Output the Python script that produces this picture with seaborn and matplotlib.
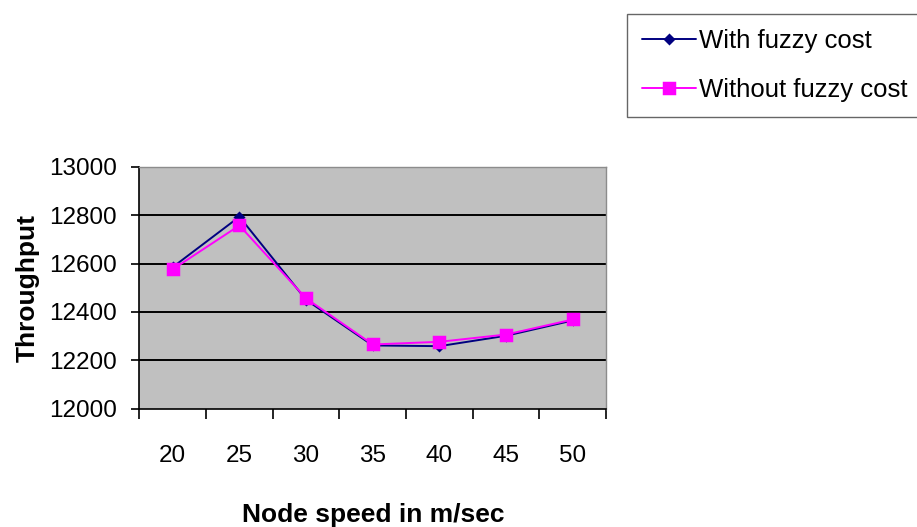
import matplotlib
matplotlib.use("Agg")
import matplotlib.pyplot as plt
import numpy as np
import pandas as pd
import seaborn as sns

speeds = ["20", "25", "30", "35", "40", "45", "50"]
with_fuzzy = [12585, 12793, 12450, 12262, 12259, 12302, 12365]
without_fuzzy = [12576, 12757, 12456, 12266, 12277, 12307, 12369]
series_names = ["With fuzzy cost", "Without fuzzy cost"]
y_ticks = [12000, 12200, 12400, 12600, 12800, 13000]

df = pd.DataFrame({
    "speed": speeds * 2,
    "throughput": with_fuzzy + without_fuzzy,
    "series": [series_names[0]] * len(speeds) + [series_names[1]] * len(speeds),
})

sns.set_style("white")
plt.rcParams["font.family"] = ["Liberation Sans", "DejaVu Sans"]
plt.rcParams["text.color"] = "black"
plt.rcParams["axes.labelcolor"] = "black"
plt.rcParams["xtick.color"] = "black"
plt.rcParams["ytick.color"] = "black"

fig = plt.figure(figsize=(9.17, 5.27), dpi=100)
ax = fig.add_axes([0.152, 0.224, 0.509, 0.460])
ax.set_facecolor("#C0C0C0")

sns.pointplot(
    data=df, x="speed", y="throughput", hue="series", order=speeds,
    palette={series_names[0]: "#000080", series_names[1]: "#FF00FF"},
    markers=["D", "s"], linestyles=["-", "-"], errorbar=None,
    markersize=7, linewidth=1.4, ax=ax,
)
# magenta squares a bit bigger than the diamonds
for line in ax.lines:
    if line.get_marker() == "s":
        line.set_markersize(8.5)
    elif line.get_marker() == "D":
        line.set_markersize(5.5)

ax.set_xlim(-0.5, len(speeds) - 0.5)
ax.set_ylim(12000, 13000)
ax.set_yticks(y_ticks)
ax.set_yticklabels([str(v) for v in y_ticks])
for v in y_ticks[1:-1]:
    ax.axhline(v, color="black", lw=1.4, zorder=0.5)

ax.set_xticks(np.arange(-0.5, len(speeds)), minor=True)
ax.tick_params(which="both", bottom=True, left=True)
ax.tick_params(axis="x", which="major", length=0, pad=26, labelsize=17.5)
ax.tick_params(axis="x", which="minor", length=7, width=1.2, direction="out")
ax.tick_params(axis="y", which="major", length=6, width=1.2, direction="out", pad=10, labelsize=17.5)

for side in ["left", "bottom"]:
    ax.spines[side].set_color("black")
    ax.spines[side].set_linewidth(1.2)
for side in ["top", "right"]:
    ax.spines[side].set_color("#8C8C8C")
    ax.spines[side].set_linewidth(1.0)

ax.set_xlabel("Node speed in m/sec", fontsize=19, fontweight="bold", labelpad=26)
ax.set_ylabel("Throughput", fontsize=19, fontweight="bold", labelpad=7)

handles, labels = ax.get_legend_handles_labels()
ax.get_legend().remove()
leg = fig.legend(
    handles, labels, loc="upper left", bbox_to_anchor=(627 / 917, 1 - 14 / 527),
    frameon=True, fancybox=False, fontsize=18.5,
    handlelength=2.1, handletextpad=0.12, borderpad=0.6, labelspacing=0.95,
    borderaxespad=0,
)
leg.get_frame().set_edgecolor("#404040")
leg.get_frame().set_linewidth(1.0)

fig.savefig("out.png", dpi=100)
